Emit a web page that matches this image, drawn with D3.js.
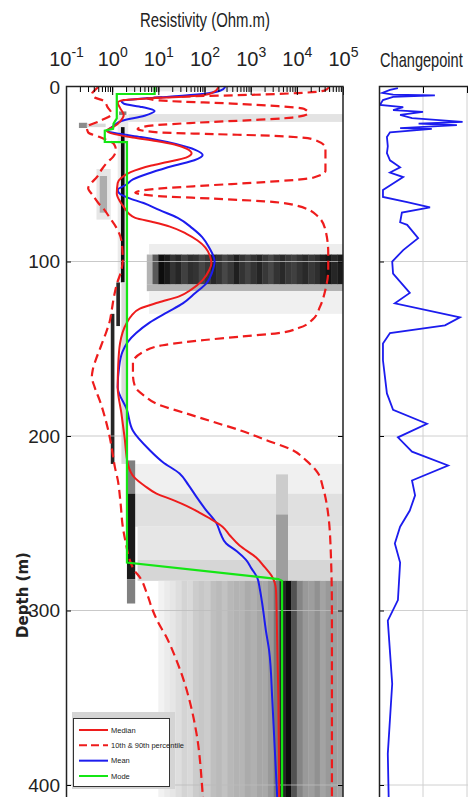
<!DOCTYPE html>
<html>
<head>
<meta charset="utf-8">
<script src="https://cdn.jsdelivr.net/npm/d3@7"></script>
<style>
  body { margin: 0; background: #fff; }
  text { font-family: "Liberation Sans Narrow", "Arial Narrow", "Liberation Sans", sans-serif; fill: #222; }
</style>
</head>
<body>
<div id="chart"></div>
<script>
// ---------- data (depth in m, resistivity as log10 Ohm.m) ----------
var depthTicks = [0, 100, 200, 300, 400];
var decades = [-1, 0, 1, 2, 3, 4, 5];
var cpTicks = [0.1, 0.2];

var median = [[0,2.3],[2,2.25],[4,2.1],[5.5,1.6],[6.5,0.8],[7.5,0.25],[9,0.12],[12,0.17],[16,0.25],[19.5,0.18],
  [22.5,0.05],[25,-0.12],[27,0.05],[29,0.45],[31,0.95],[33,1.35],[35.5,1.62],[38,1.72],[40.5,1.6],[43,1.2],
  [45,0.85],[48.8,0.4],[52,0.2],[55,0.12],[61,0.1],[66,0.18],[69.4,0.27],[72.5,0.36],[75,0.5],[77.5,0.9],
  [80,1.25],[84,1.6],[88,1.85],[92,2.02],[97,2.12],[101,2.15],[105,2.1],[110.7,1.96],[116,1.72],[120,1.45],
  [123.5,1.0],[127,0.6],[131,0.42],[135,0.32],[147,0.17],[160,0.13],[172,0.12],[187,0.2],[201,0.27],[216,0.34],
  [224,0.49],[228.5,0.7],[233,0.96],[237,1.35],[240,1.61],[244,1.9],[247,2.1],[252,2.39],[257,2.55],[262.8,2.76],
  [269.6,3.12],[275,3.3],[280,3.45],[288.6,3.55],[311.5,3.57],[350,3.6],[420,3.62]];

var mean = [[0,2.45],[2,2.35],[4,1.95],[5.5,1.3],[6.8,0.6],[8,0.2],[9.5,0.25],[11.5,0.65],[13.8,0.92],[16.5,0.7],
  [19.5,0.2],[22.5,0.02],[25,-0.1],[26.8,0.15],[28.7,0.62],[30.5,1.0],[32.7,1.38],[36,1.8],[39,1.96],[42,1.78],
  [45,1.35],[49,0.85],[53,0.45],[56,0.3],[59,0.12],[61.5,0.18],[63.5,0.35],[66.5,0.68],[70.6,1.03],[75,1.42],
  [81,1.74],[86,1.95],[92,2.1],[100,2.22],[105,2.18],[112.5,2.04],[118,1.8],[124,1.53],[129,1.2],[135,0.81],
  [141,0.52],[146,0.34],[152,0.22],[160.6,0.15],[172,0.12],[185,0.32],[197,0.45],[208,0.81],[215,1.1],[221.5,1.46],
  [228,1.65],[235,1.83],[242,2.02],[250,2.26],[256,2.35],[261.6,2.47],[266,2.7],[271,2.9],[276,3.02],[281,3.14],
  [288,3.2],[296,3.25],[311.5,3.33],[323,3.4],[352,3.47],[420,3.6]];

var mode = [[0,0.92],[3.9,0.92],[4,0.1],[18,0.1],[21,0.03],[24,0.02],[25,-0.16],[31.5,-0.16],[31.6,0.32],
  [272.5,0.32],[282,3.6],[283,3.68],[420,3.68]];

var p10 = [[0,-0.3],[2,-0.38],[4,-0.44],[6,-0.38],[8,-0.18],[11.5,-0.1],[15.5,-0.01],[19.5,-0.27],[23,-0.55],
  [26,-0.52],[28.7,-0.27],[32.7,0.04],[36,0.08],[40,0.02],[43,-0.1],[47,-0.22],[51.6,-0.33],[55,-0.45],[58,-0.52],
  [62,-0.42],[66.5,-0.3],[70,-0.18],[75,-0.05],[81,0.1],[88,0.2],[99,0.23],[105,0.2],[113,0.1],[120,0.04],
  [128,-0.01],[134,-0.05],[142,-0.15],[149,-0.25],[156,-0.35],[162,-0.42],[166,-0.44],[172,-0.38],[179.6,-0.27],
  [190,-0.15],[201,-0.05],[210,0.01],[218,0.06],[225,0.12],[238,0.18],[252,0.23],[262,0.3],[271,0.38],[277,0.48],
  [281,0.6],[290,0.75],[300,0.88],[306,0.98],[315.5,1.18],[329,1.4],[340,1.55],[352,1.68],[371,1.83],[405,1.96],[420,2.0]];

var p90 = [[0,4.7],[2,4.6],[3.5,4.0],[4.5,3.0],[5.5,1.5],[6.5,0.75],[8,1.2],[9.5,2.6],[11,3.6],[12.5,4.15],
  [15,4.25],[17.5,3.9],[19,3.0],[20.5,1.8],[22,0.9],[24,0.55],[26,1.0],[27,2.2],[28,3.5],[30,4.35],[35,4.62],
  [48,4.62],[52,4.35],[54.5,3.3],[56.5,2.0],[58.5,0.9],[60.5,0.5],[62.5,1.0],[64,2.2],[65.5,3.3],[68,4.0],
  [74,4.45],[82,4.62],[95,4.68],[105,4.68],[116,4.62],[126,4.5],[133,4.35],[138,4.05],[141,3.6],[143,2.8],
  [145,2.0],[148,1.1],[152,0.66],[158,0.45],[165,0.45],[172,0.5],[177,0.7],[182,1.0],[187,1.6],[192,2.2],
  [197,2.8],[202,3.3],[208,3.9],[214,4.2],[221,4.45],[230,4.57],[245,4.68],[270,4.74],[300,4.76],[420,4.76]];

// changepoint probability vs depth
var changepoint = [[0.6,0.043],[1.7,0.025],[3.4,0.007],[4.4,0.032],[4.8,0.127],[5.7,0.032],[7.5,0.009],
  [10.3,0.002],[11.5,0.055],[13.2,0.032],[14.3,0.1],[16,0.048],[17.8,0.075],[20,0.19],[21,0.09],[21.8,0.177],
  [23.6,0.048],[24,0.12],[26,0.025],[28.7,0.018],[34,0.02],[37.9,0.018],[42,0.025],[46,0.048],[49,0.025],
  [51.6,0.055],[59,0.009],[63,0.009],[66,0.064],[69,0.116],[72,0.052],[77.5,0.048],[79,0.064],[86.6,0.089],
  [93.5,0.055],[100,0.03],[107,0.032],[118,0.07],[124,0.036],[132,0.184],[136.6,0.15],[141,0.025],[147,0.009],
  [156.6,0.009],[175.6,0.018],[185,0.032],[193,0.109],[200.8,0.043],[209,0.075],[216.9,0.157],[225.5,0.075],
  [234,0.082],[242.7,0.07],[252,0.048],[261.6,0.036],[272.5,0.048],[294,0.043],[305.8,0.02],[342,0.03],
  [382,0.02],[420,0.023]];

// posterior density cells: [depth top, depth bottom, log10 low, log10 high, density]
var heatCells = [
  [0,2.5,0.3,5.0,0.08],[15.5,20,0.35,5.0,0.11],[14,18.5,0.15,0.3,0.5],[20.5,23.5,-0.72,-0.55,0.45],
  [21,23,-0.55,-0.15,0.15],[16,112,0.12,0.34,0.08],[23,112,0.19,0.26,0.95],[47,76,-0.34,-0.04,0.1],
  [51,72,-0.27,-0.12,0.32],[90,96,0.8,5.0,0.07],[113,117,0.75,5.0,0.3],[117,130,0.8,5.0,0.06],
  [112,137,0.09,0.16,0.85],[130,216,-0.03,0.04,0.85],[112,216,0.2,0.34,0.14],
  [216,233,0.5,5.0,0.06],[233,252,0.5,5.0,0.12],[252,271,0.55,5.0,0.1],[271,283,0.55,5.0,0.16],
  [222,245,3.55,3.8,0.2],[245,283,3.55,3.8,0.38],[214,233,0.32,0.49,0.5],[233,282,0.32,0.49,0.9],[282,296,0.32,0.49,0.5]];

// striped bands (columns of 0.125 decade)
var bandTops = [96, 283];
var bandBottoms = [113, 420];
var bandStarts = [0.75, 1.0];
var bandStep = 0.125;
var bandDensity = [
  [0.3,0.65,0.95,0.9,0.8,0.85,0.75,0.82,0.8,0.72,0.78,0.85,0.8,0.72,0.78,0.88,0.8,0.74,0.8,0.86,0.78,0.72,
   0.8,0.84,0.78,0.75,0.8,0.84,0.78,0.82,0.88,0.92,0.85,0.9],
  [0.05,0.08,0.1,0.13,0.17,0.15,0.2,0.22,0.2,0.25,0.27,0.24,0.28,0.3,0.29,0.33,0.31,0.35,0.34,0.4,0.52,0.85,
   0.95,0.68,0.48,0.4,0.38,0.43,0.36,0.4,0.38,0.36]];

var legendLabels = ["Median", "10th & 90th percentile", "Mean", "Mode"];

// ---------- drawing ----------
var RED = "#ee1c1c", BLUE = "#1c1cee", GREEN = "#14e614";

var svg = d3.select("#chart").append("svg").attr("width", 468).attr("height", 797);

var x = d3.scaleLog().domain([1e-1, 1e5]).range([66, 343]);
var y = d3.scaleLinear().domain([0, 420]).range([87, 87 + 420 * 1.745]);
var cx = d3.scaleLinear().domain([0, 0.3]).range([379, 511]);
var shade = d3.interpolateRgb("#ffffff", "#000000");
function res(v) { return Math.pow(10, v); }

var defs = svg.append("defs");
defs.append("clipPath").attr("id", "clipL").append("rect")
  .attr("x", 66).attr("y", 87).attr("width", 277).attr("height", 720);
defs.append("clipPath").attr("id", "clipR").append("rect")
  .attr("x", 379).attr("y", 87).attr("width", 100).attr("height", 720);

// heat map
var cells = heatCells.slice();
bandTops.forEach(function(t, b) {
  bandDensity[b].forEach(function(d, i) {
    cells.push([t, bandBottoms[b], bandStarts[b] + i * bandStep, bandStarts[b] + (i + 1) * bandStep, d]);
  });
});

svg.append("g")
  .attr("clip-path", "url(#clipL)")
  .selectAll("rect")
  .data(cells)
  .enter()
  .append("rect")
  .attr("x", function(d) { return x(res(d[2])); })
  .attr("y", function(d) { return y(d[0]); })
  .attr("width", function(d) { return x(res(d[3])) - x(res(d[2])) + 0.4; })
  .attr("height", function(d) { return y(d[1]) - y(d[0]); })
  .attr("fill", function(d) { return shade(d[4]); });

// grid
svg.append("g")
  .selectAll("line")
  .data(depthTicks.slice(1))
  .enter()
  .append("line")
  .attr("x1", 66).attr("x2", 343)
  .attr("y1", function(d) { return y(d); }).attr("y2", function(d) { return y(d); })
  .attr("stroke", "#bbb").attr("stroke-opacity", 0.8);

// curves
var curveLine = d3.line()
  .x(function(d) { return x(res(d[1])); })
  .y(function(d) { return y(d[0]); })
  .curve(d3.curveMonotoneY);
var stepLine = d3.line()
  .x(function(d) { return x(res(d[1])); })
  .y(function(d) { return y(d[0]); });

var lines = svg.append("g").attr("clip-path", "url(#clipL)").attr("fill", "none");
[p10, p90].forEach(function(s) {
  lines.append("path").attr("d", curveLine(s))
    .attr("stroke", RED).attr("stroke-width", 2.2).attr("stroke-dasharray", "9,5");
});
lines.append("path").attr("d", curveLine(mean)).attr("stroke", BLUE).attr("stroke-width", 2);
lines.append("path").attr("d", curveLine(median)).attr("stroke", RED).attr("stroke-width", 2);
lines.append("path").attr("d", stepLine(mode)).attr("stroke", GREEN).attr("stroke-width", 2.2);

// left panel axes
svg.append("g")
  .attr("transform", "translate(0,87)")
  .call(d3.axisBottom(x).tickValues(x.ticks()).tickSize(5).tickFormat(""))
  .call(function(g) { g.select(".domain").remove(); });
svg.append("g")
  .attr("transform", "translate(0,87)")
  .call(d3.axisBottom(x).tickValues(decades.map(res)).tickSize(8).tickFormat(""))
  .call(function(g) { g.select(".domain").remove(); });

var topLabels = svg.append("g")
  .attr("transform", "translate(0,66)")
  .call(d3.axisTop(x).tickValues(decades.map(res)).tickSize(0).tickPadding(0).tickFormat(""));
topLabels.select(".domain").remove();
topLabels.selectAll(".tick text")
  .attr("y", 0).attr("dy", 0)
  .style("font-size", "20px")
  .each(function(d) {
    var t = d3.select(this);
    t.append("tspan").text("10");
    t.append("tspan").attr("dy", -9).style("font-size", "14px").text(Math.round(Math.log10(d)));
  });

svg.append("g")
  .attr("transform", "translate(66,0)")
  .call(d3.axisRight(y).tickValues(depthTicks.slice(1)).tickSize(5).tickFormat(""))
  .call(function(g) { g.select(".domain").remove(); });
svg.append("g")
  .attr("transform", "translate(343,0)")
  .call(d3.axisLeft(y).tickValues(depthTicks.slice(1)).tickSize(5).tickFormat(""))
  .call(function(g) { g.select(".domain").remove(); });
var depthAxis = svg.append("g")
  .attr("transform", "translate(66,0)")
  .call(d3.axisLeft(y).tickValues(depthTicks).tickSize(0).tickPadding(6));
depthAxis.select(".domain").remove();
depthAxis.selectAll("text").style("font-size", "19px").attr("fill", "#222");

svg.append("path")
  .attr("d", "M66.5,797V86.5H343V797")
  .attr("fill", "none").attr("stroke", "#222").attr("stroke-width", 1.5);

// titles
svg.append("text")
  .attr("x", 205).attr("y", 27).attr("text-anchor", "middle")
  .attr("textLength", 130).attr("lengthAdjust", "spacingAndGlyphs")
  .style("font-size", "20px")
  .text("Resistivity (Ohm.m)");

svg.append("text")
  .attr("transform", "translate(23,595) rotate(-90)")
  .attr("text-anchor", "middle").attr("dominant-baseline", "central")
  .style("font-family", "'DejaVu Sans', Verdana, sans-serif")
  .style("font-weight", "bold").style("font-size", "15px")
  .text("Depth (m)");

svg.append("text")
  .attr("transform", "translate(380,67) scale(0.73,1)")
  .style("font-size", "20px")
  .text("Changepoint");

// legend
var legendStyles = [
  {color: RED, dash: null},
  {color: RED, dash: "8,4"},
  {color: BLUE, dash: null},
  {color: GREEN, dash: null}
];
svg.append("rect").attr("x", 72).attr("y", 712).attr("width", 103).attr("height", 77).attr("fill", "#d4d4d4");
svg.append("rect").attr("x", 73.5).attr("y", 718.5).attr("width", 96).attr("height", 68)
  .attr("fill", "#fff").attr("stroke", "#333").attr("stroke-width", 1);
var legendRow = d3.scaleLinear().domain([0, 3]).range([730, 776]);
var items = svg.append("g").selectAll("g").data(legendLabels).enter().append("g")
  .attr("transform", function(d, i) { return "translate(0," + legendRow(i) + ")"; });
items.append("line")
  .attr("x1", 79).attr("x2", 108)
  .attr("stroke", function(d, i) { return legendStyles[i].color; })
  .attr("stroke-dasharray", function(d, i) { return legendStyles[i].dash; })
  .attr("stroke-width", 2);
items.append("text")
  .attr("x", 111).attr("dy", "0.35em")
  .style("font-size", "7.5px").attr("fill", "#333")
  .text(function(d) { return d; });

// changepoint panel
var cpGrid = svg.append("g").attr("stroke", "#d0d0d0");
cpGrid.selectAll(".v").data(cpTicks).enter().append("line")
  .attr("x1", function(d) { return cx(d); }).attr("x2", function(d) { return cx(d); })
  .attr("y1", 87).attr("y2", 797);
cpGrid.selectAll(".h").data(depthTicks.slice(1)).enter().append("line")
  .attr("x1", 379).attr("x2", 468)
  .attr("y1", function(d) { return y(d); }).attr("y2", function(d) { return y(d); });

var cpLine = d3.line()
  .x(function(d) { return cx(d[1]); })
  .y(function(d) { return y(d[0]); });
svg.append("path")
  .attr("clip-path", "url(#clipR)")
  .attr("d", cpLine(changepoint))
  .attr("fill", "none").attr("stroke", BLUE).attr("stroke-width", 1.8);

svg.append("g")
  .attr("transform", "translate(0,87)")
  .call(d3.axisBottom(cx).tickValues(cpTicks).tickSize(6).tickFormat(""))
  .call(function(g) { g.select(".domain").remove(); });
svg.append("g")
  .attr("transform", "translate(379,0)")
  .call(d3.axisRight(y).tickValues(depthTicks.slice(1)).tickSize(5).tickFormat(""))
  .call(function(g) { g.select(".domain").remove(); });
svg.append("path")
  .attr("d", "M379.5,797V86.5H468")
  .attr("fill", "none").attr("stroke", "#222").attr("stroke-width", 1.5);
</script>
</body>
</html>
